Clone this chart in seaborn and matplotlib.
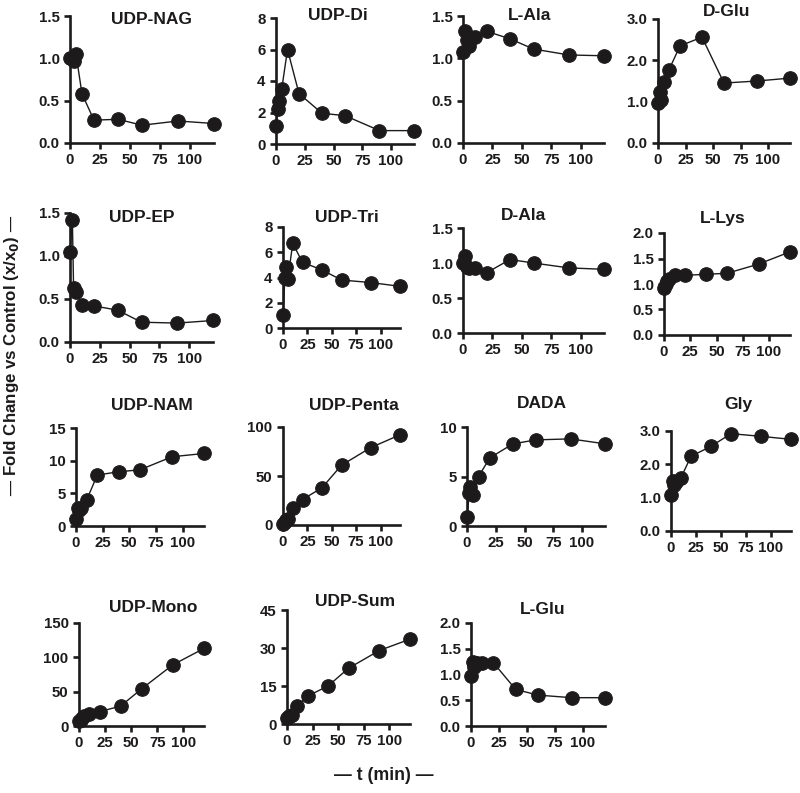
import numpy as np
import pandas as pd
import matplotlib
matplotlib.use("Agg")
import matplotlib.pyplot as plt
import seaborn as sns

# sampling times (min)
times = [0, 2, 3, 5, 10, 20, 40, 60, 90, 120]

# fold change vs control
udp_nag = [1.0, 1.0, 0.97, 1.05, 0.58, 0.27, 0.28, 0.21, 0.26, 0.23]
udp_di = [1.15, 2.2, 2.7, 3.5, 6.0, 3.2, 1.95, 1.8, 0.85, 0.85]
l_ala = [1.07, 1.32, 1.22, 1.15, 1.25, 1.32, 1.23, 1.11, 1.04, 1.03]
d_glu = [0.97, 1.23, 1.04, 1.48, 1.77, 2.35, 2.56, 1.45, 1.50, 1.57]
udp_ep = [1.05, 1.42, 0.63, 0.58, 0.43, 0.42, 0.37, 0.23, 0.22, 0.25]
udp_tri = [1.0, 4.0, 4.8, 3.9, 6.7, 5.2, 4.6, 3.8, 3.6, 3.3]
d_ala = [1.0, 1.1, 0.95, 0.93, 0.93, 0.86, 1.05, 1.0, 0.93, 0.91]
l_lys = [0.93, 1.0, 1.05, 1.1, 1.17, 1.17, 1.19, 1.21, 1.39, 1.63]
udp_nam = [1.1, 2.8, 2.5, 2.8, 4.0, 7.8, 8.3, 8.6, 10.6, 11.1]
udp_penta = [1.5, 3.0, 5.0, 6.0, 17.0, 26.0, 38.0, 61.0, 79.0, 92.0]
dada = [0.9, 3.3, 3.9, 3.1, 5.0, 6.9, 8.3, 8.7, 8.8, 8.3]
gly = [1.08, 1.5, 1.37, 1.48, 1.6, 2.24, 2.54, 2.92, 2.84, 2.75]
udp_mono = [7.0, 9.0, 12.0, 15.0, 18.0, 21.0, 29.0, 54.0, 89.0, 113.0]
udp_sum = [2.5, 3.0, 3.3, 3.6, 7.0, 11.0, 15.0, 22.0, 29.0, 33.5]
l_glu = [0.97, 1.25, 1.15, 1.22, 1.23, 1.23, 0.71, 0.60, 0.55, 0.55]

names = ["UDP-NAG", "UDP-Di", "L-Ala", "D-Glu",
         "UDP-EP", "UDP-Tri", "D-Ala", "L-Lys",
         "UDP-NAM", "UDP-Penta", "DADA", "Gly",
         "UDP-Mono", "UDP-Sum", "L-Glu"]
series = [udp_nag, udp_di, l_ala, d_glu,
          udp_ep, udp_tri, d_ala, l_lys,
          udp_nam, udp_penta, dada, gly,
          udp_mono, udp_sum, l_glu]
yticks = [[0, 0.5, 1.0, 1.5], [0, 2, 4, 6, 8], [0, 0.5, 1.0, 1.5], [0, 1.0, 2.0, 3.0],
          [0, 0.5, 1.0, 1.5], [0, 2, 4, 6, 8], [0, 0.5, 1.0, 1.5], [0, 0.5, 1.0, 1.5, 2.0],
          [0, 5, 10, 15], [0, 50, 100], [0, 5, 10], [0, 1.0, 2.0, 3.0],
          [0, 50, 100, 150], [0, 15, 30, 45], [0, 0.5, 1.0, 1.5, 2.0]]
yfmt = ["%.1f", "%d", "%.1f", "%.1f",
        "%.1f", "%d", "%.1f", "%.1f",
        "%d", "%d", "%d", "%.1f",
        "%d", "%d", "%.1f"]
xticks = [0, 25, 50, 75, 100]

# axes boxes in pixels: left, right (t=120), top (ymax), bottom (y=0)
boxes = [(70, 214, 16, 143), (276, 414, 18, 144), (463, 604, 16, 143), (658, 790, 19, 143),
         (70, 213, 213, 342), (283, 400, 227, 328), (463, 604, 228, 333), (664, 790, 233, 335),
         (76, 204, 428, 526), (283, 400, 427, 525), (467, 605, 427, 526), (671, 791, 431, 531),
         (79, 204, 623, 726), (287, 410, 610, 724), (471, 605, 623, 726)]
# title centres in pixels
title_pos = [(152, 20), (338, 15), (530, 15), (727, 12),
             (142, 218), (347, 218), (523, 215), (723, 218),
             (152, 406), (354, 405), (542, 403), (738, 405),
             (153, 608), (355, 601), (543, 609)]

sns.set_theme(style="ticks")
plt.rcParams['font.family'] = ['Liberation Sans', 'DejaVu Sans']
plt.rcParams['font.weight'] = 'bold'
ink = "#1c1a1b"

W, H = 800, 793
fig = plt.figure(figsize=(8, 7.93), dpi=100)

for i, name in enumerate(names):
    L, R, T, B = boxes[i]
    ax = fig.add_axes([L / W, 1 - B / H, (R - L) / W, (B - T) / H])
    df = pd.DataFrame({"t": times, "v": series[i]})
    sns.lineplot(data=df, x="t", y="v", ax=ax, color=ink, linewidth=1.0,
                 marker="o", markersize=9.8, markeredgecolor=ink,
                 markerfacecolor=ink, clip_on=False, sort=False)
    ax.set_xlim(0, 120)
    ax.set_ylim(0, yticks[i][-1])
    ax.set_xticks(xticks)
    ax.set_xticklabels([str(x) for x in xticks])
    ax.set_yticks(yticks[i])
    ax.set_yticklabels([yfmt[i] % v for v in yticks[i]])
    ax.set_xlabel("")
    ax.set_ylabel("")
    for s in ["top", "right"]:
        ax.spines[s].set_visible(False)
    for s in ["left", "bottom"]:
        ax.spines[s].set_linewidth(1.9)
        ax.spines[s].set_color(ink)
    ax.tick_params(axis="both", length=4, width=1.9, color=ink, labelcolor=ink,
                   labelsize=10.8, pad=3.5)
    for lab in ax.get_xticklabels() + ax.get_yticklabels():
        lab.set_fontweight("bold")
    ax.set_facecolor("white")
    tx, ty = title_pos[i]
    fig.text(tx / W, 1 - ty / H, name, ha="center", va="center",
             fontsize=12.5, fontweight="bold", color=ink)

fig.text(12 / W, 1 - 356 / H, "— Fold Change vs Control (x/x$\\mathbf{_0}$) —",
         rotation=90, ha="center", va="center", fontsize=12.2,
         fontweight="bold", color=ink)
fig.text(384 / W, 1 - 775 / H, "— t (min) —", ha="center", va="center",
         fontsize=12.8, fontweight="bold", color=ink)

fig.savefig("out.png", dpi=100, facecolor="white")
